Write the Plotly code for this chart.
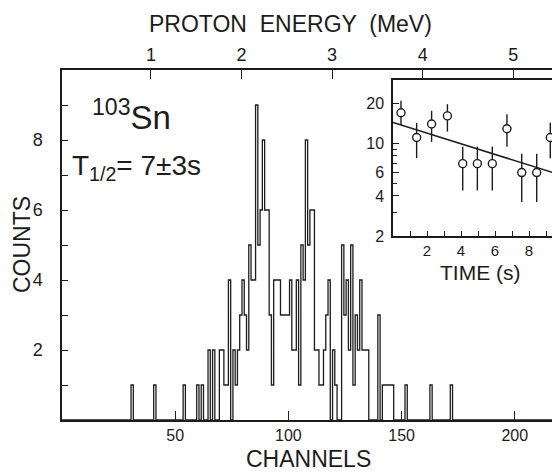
import numpy as np
import plotly.graph_objects as go

# ---------------- data ----------------
# main spectrum: channel numbers with non-zero counts
hist_channels = [31, 41, 54, 60, 62, 65, 67, 70, 71, 72, 73, 74, 76, 77, 78, 79, 80,
                 81, 82, 83, 84, 85, 86, 87, 88, 89, 90, 91, 92, 93, 94, 95, 96, 97,
                 98, 99, 100, 101, 102, 103, 104, 105, 106, 107, 108, 109, 110, 111,
                 112, 113, 114, 115, 116, 117, 118, 120, 121, 124, 125, 126, 127, 128,
                 129, 130, 131, 132, 133, 134, 135, 140, 142, 143, 144, 145, 146, 152,
                 163, 172]
hist_counts = [1, 1, 1, 1, 1, 2, 2, 2, 2, 1, 1, 4, 2, 1, 2, 3, 4,
               3, 2, 5, 4, 4, 9, 5, 6, 8, 6, 6, 3, 1, 4, 4, 4, 3,
               3, 3, 3, 4, 2, 2, 4, 1, 5, 4, 8, 5, 6, 6,
               2, 2, 1, 1, 2, 3, 4, 2, 1, 5, 3, 4, 2, 5,
               1, 3, 2, 4, 2, 2, 2, 3, 1, 1, 1, 1, 1, 1,
               1, 1]

channel_ticks = [50, 100, 150, 200]
count_ticks = [2, 4, 6, 8]
count_minor = [1, 3, 5, 7, 9]

# top energy axis (MeV) and its channel calibration
energy_ticks = [1, 2, 3, 4, 5]
chan_per_mev = 40.0
chan_offset = -0.7

# inset: decay curve
decay_time = [0.47, 1.39, 2.27, 3.20, 4.10, 4.96, 5.84, 6.70, 7.57, 8.45, 9.25]
decay_counts = [16.9, 11.0, 13.9, 16.0, 7.0, 7.0, 7.0, 12.8, 6.0, 6.0, 11.0]
decay_hi = [20.8, 14.2, 17.5, 19.6, 9.4, 9.4, 9.4, 16.5, 8.3, 8.3, 14.2]
decay_lo = [13.7, 7.7, 10.2, 12.2, 4.4, 4.4, 4.4, 9.4, 3.6, 3.6, 7.7]
fit_time = [0.0, 9.4]
fit_counts = [14.3, 6.0]
time_ticks = [2, 4, 6, 8]
time_minor = [1, 3, 5, 7, 9]
inset_yticks = [2, 4, 6, 10, 20]
inset_yminor = [3, 5, 7, 8, 9]

# ---------------- figure ----------------
INK = "#1c1c1c"
FONT = "Liberation Sans, Arial, sans-serif"
W, H = 552, 472
ML, MR, MT, MB = 62, 0, 70, 52
PW, PH = W - ML - MR, H - MT - MB

def px(x):
    return (x - ML) / PW

def py(y):
    return (H - MB - y) / PH

n_chan = 217
counts = np.zeros(n_chan)
counts[np.array(hist_channels)] = hist_counts
edges = np.arange(n_chan + 1) - 0.5
step_y = np.append(counts, counts[-1])

fig = go.Figure()
fig.add_trace(go.Scatter(x=edges, y=step_y, mode="lines",
                         line=dict(shape="hv", color=INK, width=1.3),
                         hoverinfo="skip"))

energy_chan = [chan_offset + chan_per_mev * e for e in energy_ticks]
fig.add_trace(go.Scatter(x=energy_chan, y=[0] * len(energy_chan), xaxis="x2", yaxis="y",
                         mode="markers", marker=dict(opacity=0), hoverinfo="skip"))

# inset
fig.add_trace(go.Scatter(x=fit_time, y=fit_counts, xaxis="x3", yaxis="y3", mode="lines",
                         line=dict(color=INK, width=1.5), hoverinfo="skip"))
err_plus = [h - v for h, v in zip(decay_hi, decay_counts)]
err_minus = [v - l for v, l in zip(decay_counts, decay_lo)]
fig.add_trace(go.Scatter(x=decay_time, y=decay_counts, xaxis="x3", yaxis="y3",
                         mode="markers",
                         marker=dict(symbol="circle", size=8, color="white",
                                     line=dict(color=INK, width=1.4)),
                         error_y=dict(type="data", symmetric=False, array=err_plus,
                                      arrayminus=err_minus, color=INK, thickness=1.4,
                                      width=0),
                         hoverinfo="skip"))

axis_common = dict(showgrid=False, zeroline=False, showline=True, linecolor=INK,
                   linewidth=1.5, tickcolor=INK, tickwidth=1.3, ticks="inside")

fig.update_layout(
    width=W, height=H,
    margin=dict(l=ML, r=MR, t=MT, b=MB, pad=0),
    paper_bgcolor="white", plot_bgcolor="white",
    showlegend=False,
    font=dict(family=FONT, color=INK),
    xaxis=dict(range=[0, PW / 2.264], tickvals=channel_ticks, ticklen=9,
               tickfont=dict(size=16), **axis_common),
    xaxis2=dict(overlaying="x", side="top", range=[0, PW / 2.264],
                tickvals=energy_chan, ticktext=[str(e) for e in energy_ticks],
                ticklen=9, tickfont=dict(size=18), **axis_common),
    yaxis=dict(range=[0, 10], tickvals=count_ticks, ticklen=6,
               tickfont=dict(size=18), ticklabelstandoff=14,
               minor=dict(tickvals=count_minor, ticks="inside", ticklen=6,
                          tickcolor=INK, tickwidth=1.3),
               **axis_common),
    xaxis3=dict(domain=[px(393), 1.0], anchor="y3", range=[0, 9.35],
                tickvals=time_ticks, ticklen=5, mirror=True,
                tickfont=dict(size=15),
                minor=dict(tickvals=time_minor, ticks="inside", ticklen=5,
                           tickcolor=INK, tickwidth=1.3),
                **axis_common),
    yaxis3=dict(domain=[py(236), py(80)], anchor="x3", type="log",
                range=[np.log10(2), np.log10(29.8)],
                tickvals=inset_yticks, ticktext=[str(v) for v in inset_yticks],
                ticklen=6, tickfont=dict(size=16), ticklabelstandoff=4,
                minor=dict(tickvals=inset_yminor, ticks="inside", ticklen=4,
                           tickcolor=INK, tickwidth=1.3),
                **axis_common),
)

def note(text, x, y, size, xanchor="center", **kw):
    fig.add_annotation(text=text, x=px(x), y=py(y), xref="paper", yref="paper",
                       xanchor=xanchor, yanchor="middle", showarrow=False,
                       font=dict(size=size, family=FONT, color=INK), **kw)

note("PROTON  ENERGY  (MeV)", 290, 24, 23)
note("CHANNELS", 308, 459, 23)
note("COUNTS", 22, 245, 23, textangle=-90)
note("TIME (s)", 480, 272, 21)
note("<sup>103</sup>Sn", 90, 115, 33, xanchor="left")
note("T<sub>1/2</sub>= 7±3s", 70, 167, 28, xanchor="left")

fig.write_html("out.html")
